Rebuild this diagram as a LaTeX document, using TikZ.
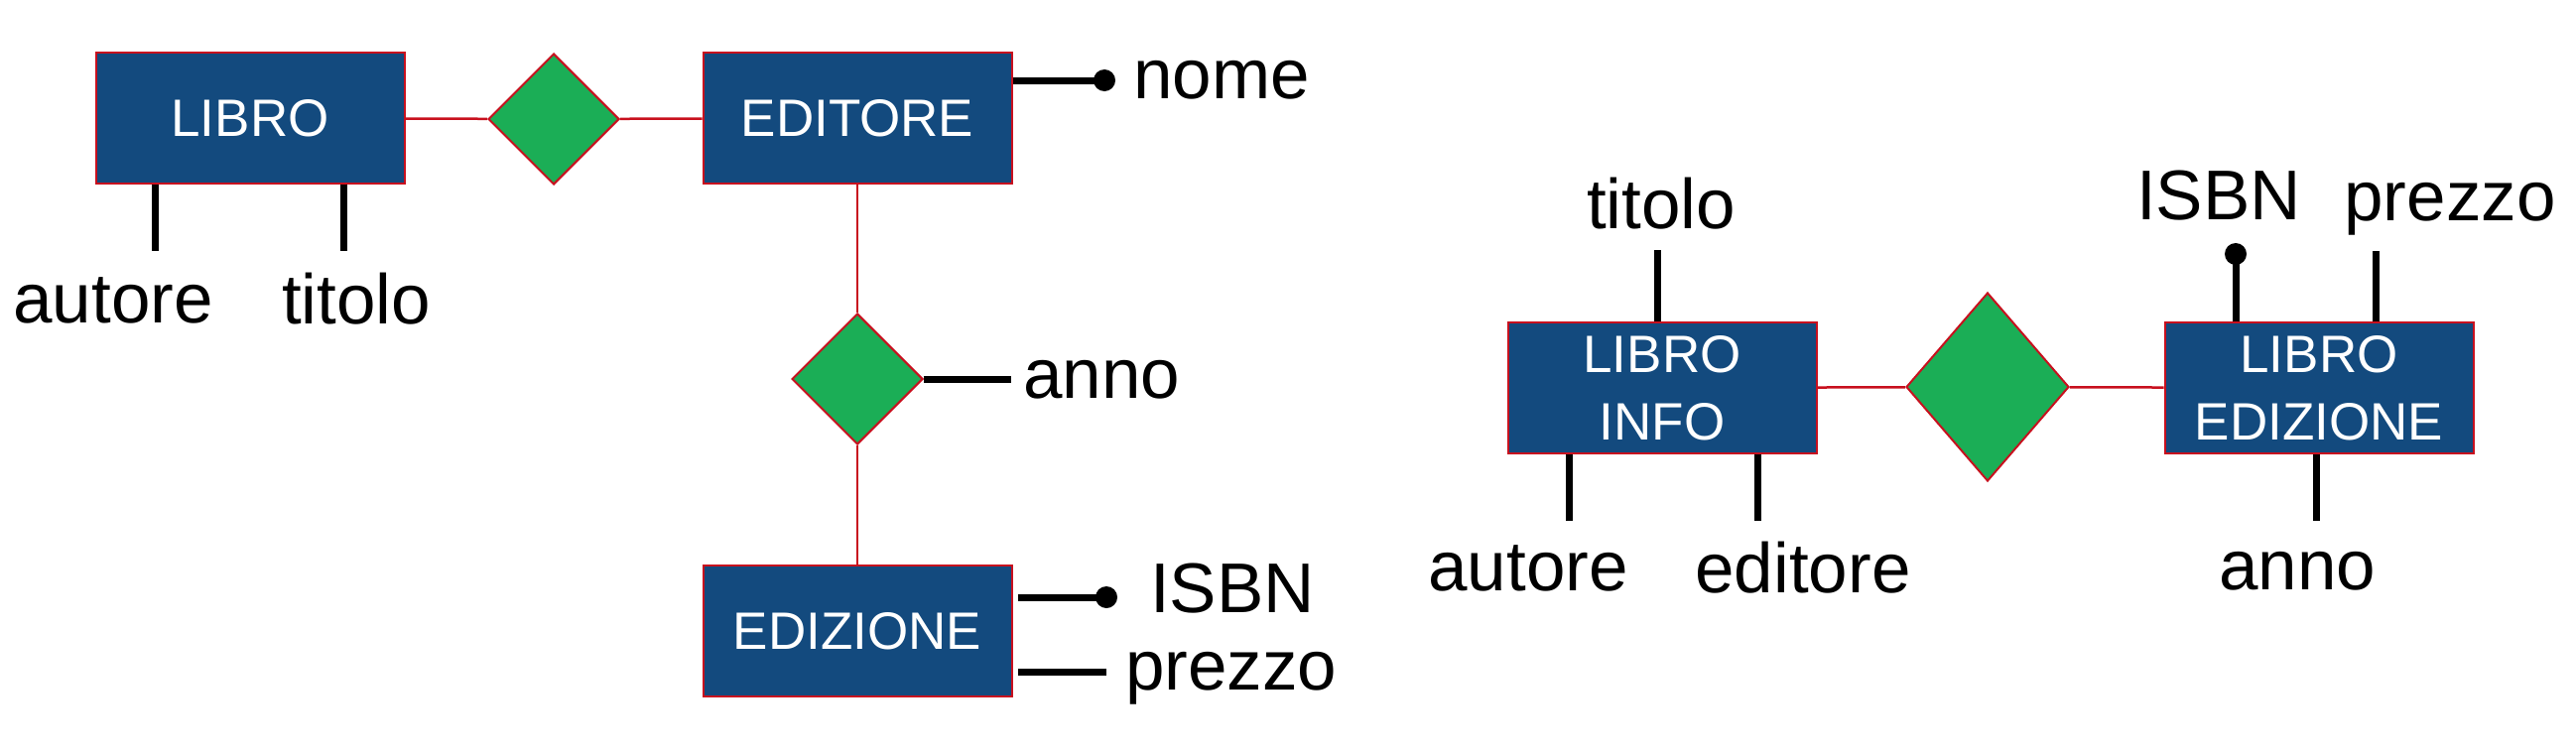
\documentclass[tikz,border=0pt]{standalone}
\usepackage{fontspec}
\setmainfont{Liberation Sans}
\usetikzlibrary{shapes.geometric}
\definecolor{boxblue}{RGB}{19,74,126}
\definecolor{relgreen}{RGB}{27,174,86}
\definecolor{edgered}{RGB}{200,16,30}
\begin{document}
\begin{tikzpicture}[x=1pt,y=-1pt,
  entity/.style={rectangle, draw=edgered, line width=2pt, fill=boxblue, text=white,
    minimum width=311pt, minimum height=132pt, inner sep=0pt,
    font=\fontsize{53}{68}\selectfont, align=center},
  relation/.style={diamond, draw=edgered, line width=2pt, fill=relgreen, inner sep=0pt},
  link/.style={draw=edgered, line width=2.5pt},
  attr/.style={draw=black, line width=7pt},
  attrtext/.style={inner sep=0pt, font=\fontsize{71}{80}\selectfont},
  keydot/.style={fill=black}
]
\useasboundingbox[fill=white] (0,0) rectangle (2596,760);

% ---------- left diagram ----------
\node[entity] (libro) at (252,119) {LIBRO};
\node[relation, minimum width=132pt, minimum height=132pt] (rel1) at (558,120) {};
\node[entity] (editore) at (864,119) {EDITORE};
\node[relation, minimum width=132pt, minimum height=132pt] (rel2) at (864,382) {};
\node[entity] (edizione) at (864,636) {EDIZIONE};

\draw[link] (libro) -- (rel1);
\draw[link] (rel1) -- (editore);
\draw[link] (editore) -- (rel2);
\draw[link] (rel2) -- (edizione);

% LIBRO attributes
\coordinate (eAutL) at (156,253);
\coordinate (eTitL) at (346,253);
\draw[attr] (eAutL |- libro.south) -- (eAutL);
\draw[attr] (eTitL |- libro.south) -- (eTitL);
\node[attrtext] (tAutL) at (114,303) {autore};
\node[attrtext] (tTitL) at (359,301) {titolo};

% EDITORE attribute
\coordinate (dNome) at (1113,81);
\draw[attr] (dNome -| editore.east) -- (dNome);
\fill[keydot] (dNome) circle (11);
\node[attrtext, anchor=west] (tNome) at (1142,81) {nome};

% relation attribute
\coordinate (eAnnoL) at (1019,382);
\draw[attr] (rel2.east) -- (eAnnoL);
\node[attrtext, anchor=west] (tAnnoL) at (1031,383) {anno};

% EDIZIONE attributes
\coordinate (dIsbnL) at (1115,602);
\coordinate (ePrezL) at (1115,677);
\draw[attr] ([xshift=5pt]dIsbnL -| edizione.east) -- (dIsbnL);
\fill[keydot] (dIsbnL) circle (11);
\draw[attr] ([xshift=5pt]ePrezL -| edizione.east) -- (ePrezL);
\node[attrtext, anchor=west] (tIsbnL) at (1159,593) {ISBN};
\node[attrtext, anchor=west] (tPrezL) at (1134,684) {prezzo};

% ---------- right diagram ----------
\node[entity] (libroinfo) at (1675,391) {LIBRO\\INFO};
\node[relation, minimum width=164pt, minimum height=190pt] (rel3) at (2003,390) {};
\node[entity] (libroed) at (2337,391) {LIBRO\\EDIZIONE};

\draw[link] (libroinfo) -- (rel3);
\draw[link] (rel3) -- (libroed);

\coordinate (eTitR) at (1670,252);
\draw[attr] (eTitR |- libroinfo.north) -- (eTitR);
\node[attrtext] (tTitR) at (1674,205) {titolo};

\coordinate (eAutR) at (1581,525);
\coordinate (eEdiR) at (1771,525);
\draw[attr] (eAutR |- libroinfo.south) -- (eAutR);
\draw[attr] (eEdiR |- libroinfo.south) -- (eEdiR);
\node[attrtext] (tAutR) at (1540,573) {autore};
\node[attrtext] (tEdiR) at (1817,572) {editore};

\coordinate (dIsbnR) at (2253,256);
\coordinate (ePrezR) at (2394,253);
\coordinate (eAnnoR) at (2334,525);
\draw[attr] (dIsbnR |- libroed.north) -- (dIsbnR);
\fill[keydot] (dIsbnR) circle (11);
\draw[attr] (ePrezR |- libroed.north) -- (ePrezR);
\draw[attr] (eAnnoR |- libroed.south) -- (eAnnoR);
\node[attrtext] (tIsbnR) at (2236,197) {ISBN};
\node[attrtext] (tPrezR) at (2469,211) {prezzo};
\node[attrtext] (tAnnoR) at (2315,576) {anno};
\end{tikzpicture}
\end{document}
